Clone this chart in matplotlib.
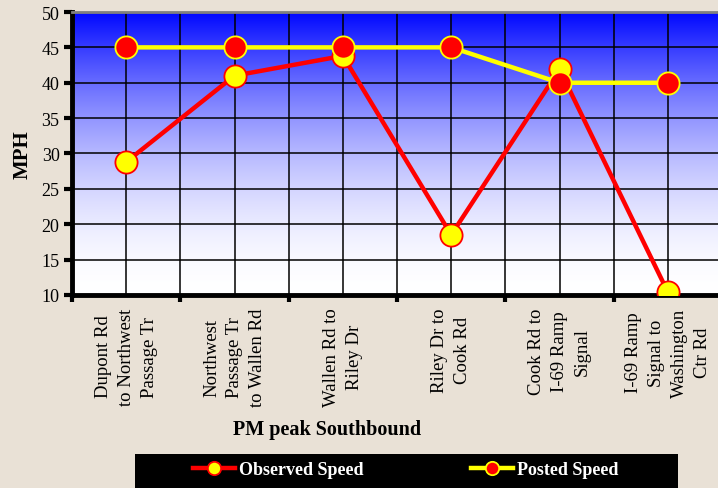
import numpy as np
import matplotlib.pyplot as plt
from matplotlib.patches import Rectangle

segments = ['Dupont Rd\nto Northwest\nPassage Tr',
            'Northwest\nPassage Tr\nto Wallen Rd',
            'Wallen Rd to\nRiley Dr',
            'Riley Dr to\nCook Rd',
            'Cook Rd to\nI-69 Ramp\nSignal',
            'I-69 Ramp\nSignal to\nWashington\nCtr Rd']
observed = [28.8, 41.0, 43.8, 18.5, 41.9, 10.4]
posted = [45, 45, 45, 45, 40, 40]

plt.rcParams['font.family'] = 'Liberation Serif'

fig = plt.figure(figsize=(7.18, 4.89), dpi=100, facecolor='#e9e1d6')
ax = fig.add_axes([0.1003, 0.3947, 0.9053, 0.5787])

x = np.arange(len(segments)) + 0.5

# blue to white background
t = np.linspace(0, 1, 256).reshape(-1, 1)
w = t ** 1.8
grad = np.dstack([1 - w, 1 - w * 0.97, np.ones_like(w)])
ax.imshow(grad, extent=[0, 6, 10, 50], origin='lower', aspect='auto', zorder=0)

ax.plot(x, observed, color='#ff0000', lw=3.2, marker='o', ms=16,
        mfc='#ffff00', mec='#ff0000', mew=1.3, zorder=3, label='Observed Speed')
ax.plot(x, posted, color='#ffff00', lw=3.2, marker='o', ms=16,
        mfc='#ff0000', mec='#ffff00', mew=1.3, zorder=4, label='Posted Speed')

ax.set_xlim(0, 6)
ax.set_ylim(10, 50)
ax.set_yticks(range(10, 51, 5))
ax.set_xticks(x)
ax.set_xticklabels(segments, rotation=90, fontsize=13.5, va='top', ha='center',
                   multialignment='center', linespacing=1.45)
ax.set_xticks(range(0, 7), minor=True)
ax.tick_params(axis='x', which='major', length=0, pad=9)
ax.tick_params(axis='x', which='minor', direction='out', length=5, width=3)
ax.tick_params(axis='y', direction='out', length=6, width=3, labelsize=13, pad=3)
ax.grid(True, which='both', color='black', lw=1.1)
for gl in ax.get_xgridlines() + ax.get_ygridlines():
    gl.set_zorder(1)

ax.spines['left'].set_linewidth(3.5)
ax.spines['bottom'].set_linewidth(3.5)
ax.spines['top'].set_color('#808080')
ax.spines['top'].set_linewidth(2)
ax.spines['right'].set_visible(False)

ax.set_ylabel('MPH', fontsize=15, fontweight='bold', labelpad=6)
fig.text(0.455, 0.121, 'PM peak Southbound', fontsize=14.5, fontweight='bold',
         ha='center', va='center')

fig.patches.append(Rectangle((135 / 718, 0), (678 - 135) / 718, 1 - 455 / 489,
                             transform=fig.transFigure, facecolor='black',
                             edgecolor='none'))
leg = fig.legend(loc='center', bbox_to_anchor=(0.565, 1 - 471 / 489), ncol=2,
                 frameon=False, prop={'weight': 'bold', 'size': 13},
                 handlelength=2.3, handletextpad=0.2, columnspacing=6.0,
                 markerscale=0.6)
for txt in leg.get_texts():
    txt.set_color('white')

fig.savefig('out.png', dpi=100, facecolor=fig.get_facecolor())
